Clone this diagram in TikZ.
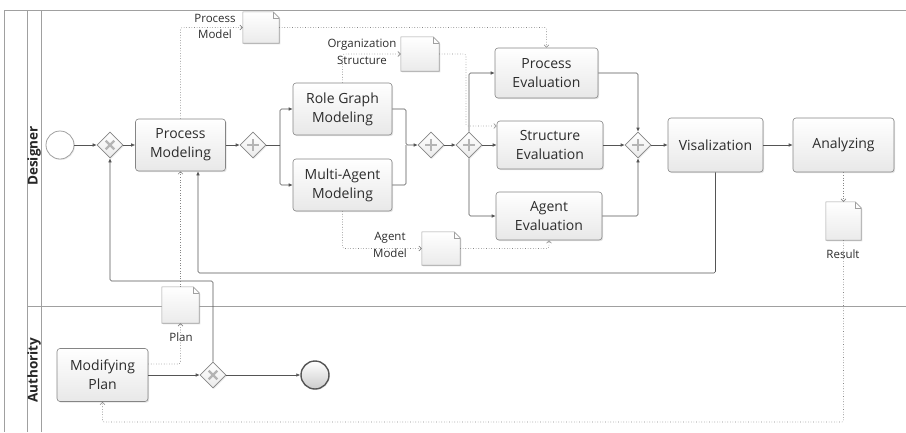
\documentclass[tikz,border=0pt]{standalone}
\usepackage{fontspec}
\setmainfont{Open Sans}
\usetikzlibrary{shapes.geometric,arrows.meta,shadows,calc}
\definecolor{linec}{HTML}{555555}
\definecolor{boxb}{HTML}{858585}
\definecolor{docb}{HTML}{A0A0A0}
\definecolor{txt}{HTML}{2C2C2C}
\definecolor{dotc}{HTML}{858585}
\definecolor{lanec}{HTML}{A0A0A0}
\definecolor{markc}{HTML}{B4B4B4}
\newcommand{\bpmndoc}[1]{%
  \draw[docb, line width=0.6pt, top color=white, bottom color=black!8,
        drop shadow={opacity=0.2, shadow xshift=1.2pt, shadow yshift=-1.2pt}]
    (#1.south west) -- (#1.north west) -- ([xshift=-6pt]#1.north east)
    -- ([yshift=-6pt]#1.north east) -- (#1.south east) -- cycle;
  \draw[docb, line width=0.5pt] ([xshift=-6pt]#1.north east)
    -- ([xshift=-6pt,yshift=-6pt]#1.north east) -- ([yshift=-6pt]#1.north east);}
\begin{document}
\begin{tikzpicture}[x=1pt,y=-1pt,
  task/.style={draw=boxb, rounded corners=3pt, top color=white, bottom color=black!9,
    line width=0.6pt, align=center, text=txt, inner sep=0pt,
    font=\fontsize{14}{19}\selectfont,
    drop shadow={opacity=0.22, shadow xshift=1.2pt, shadow yshift=-1.2pt}},
  gate/.style={diamond, draw=boxb, top color=white, bottom color=black!8,
    minimum size=26pt, inner sep=0pt, line width=0.6pt,
    drop shadow={opacity=0.18, shadow xshift=1pt, shadow yshift=-1pt}},
  xgate/.style={gate, path picture={
    \draw[markc, line width=2.4pt]
      ([shift={(-4.3pt,-4.3pt)}]path picture bounding box.center) --
      ([shift={(4.3pt,4.3pt)}]path picture bounding box.center);
    \draw[markc, line width=2.4pt]
      ([shift={(-4.3pt,4.3pt)}]path picture bounding box.center) --
      ([shift={(4.3pt,-4.3pt)}]path picture bounding box.center);}},
  pgate/.style={gate, path picture={
    \draw[markc, line width=2.6pt]
      ([shift={(-6pt,0pt)}]path picture bounding box.center) --
      ([shift={(6pt,0pt)}]path picture bounding box.center);
    \draw[markc, line width=2.6pt]
      ([shift={(0pt,-6pt)}]path picture bounding box.center) --
      ([shift={(0pt,6pt)}]path picture bounding box.center);}},
  docnode/.style={draw=none, inner sep=0pt},
  lbl/.style={text=txt, align=center, font=\fontsize{11.5}{16.5}\selectfont, inner sep=0pt},
  lane/.style={text=black!85, font=\fontsize{13.5}{16}\selectfont\bfseries, rotate=90},
  flow/.style={draw=linec, line width=0.6pt, rounded corners=1.5pt,
    -{Latex[length=4pt,width=3.6pt]}},
  seg/.style={draw=linec, line width=0.6pt, rounded corners=1.5pt},
  assoc/.style={draw=dotc, dotted, line width=0.6pt, rounded corners=1.5pt,
    -{Straight Barb[length=2.5pt,width=5pt]}},
  aseg/.style={draw=dotc, dotted, line width=0.6pt, rounded corners=1.5pt}]
\useasboundingbox (0,0) rectangle (906,432);
% pool and lanes
\draw[lanec, line width=0.6pt] (4,10) -- (906,10);
\draw[lanec, line width=0.6pt] (4,10) -- (4,432);
\draw[lanec, line width=0.6pt] (27,10) -- (27,432);
\draw[lanec, line width=0.6pt] (41,10) -- (41,432);
\draw[lanec, line width=0.6pt] (27,306) -- (906,306);
\node[lane] (ldes) at (34,156) {Designer};
\node[lane] (laut) at (34,370) {Authority};
% events and gateways
\node[circle, draw=lanec, fill=white, line width=0.8pt, minimum size=28pt, inner sep=0pt,
  drop shadow={opacity=0.15, shadow xshift=1pt, shadow yshift=-1pt}] (start) at (60,145) {};
\node[xgate] (gx1) at (110,145) {};
\node[pgate] (g2) at (253,145) {};
\node[pgate] (g3) at (431,145) {};
\node[pgate] (g4) at (469,145) {};
\node[pgate] (g5) at (638,145) {};
\node[xgate] (g6) at (213,375) {};
\node[circle, draw=linec, line width=1.4pt, top color=white, bottom color=black!20,
  minimum size=28pt, inner sep=0pt,
  drop shadow={opacity=0.15, shadow xshift=1pt, shadow yshift=-1pt}] (end) at (315,375) {};
% tasks
\node[task, minimum width=90pt, minimum height=52pt] (pm) at (180.5,145) {Process\\Modeling};
\node[task, minimum width=99pt, minimum height=52pt] (rg) at (342.5,109) {Role Graph\\Modeling};
\node[task, minimum width=99pt, minimum height=52pt] (ma) at (342.5,185) {Multi-Agent\\Modeling};
\node[task, minimum width=103pt, minimum height=50pt] (pe) at (546.5,73) {Process\\Evaluation};
\node[task, minimum width=106pt, minimum height=48pt] (se) at (550,145) {Structure\\Evaluation};
\node[task, minimum width=106pt, minimum height=48pt] (ae) at (549,216) {Agent\\Evaluation};
\node[task, minimum width=95pt, minimum height=54pt] (vis) at (715.5,145) {Visalization};
\node[task, minimum width=101pt, minimum height=54pt] (an) at (843.5,145) {Analyzing};
\node[task, minimum width=91pt, minimum height=53pt] (mp) at (102.5,375) {Modifying\\Plan};
% data objects
\node[docnode, minimum width=36pt, minimum height=31pt] (pmdoc) at (261,27.5) {};
\node[docnode, minimum width=38pt, minimum height=34pt] (orgdoc) at (420,54) {};
\node[docnode, minimum width=38pt, minimum height=33pt] (agdoc) at (441,248.5) {};
\node[docnode, minimum width=37pt, minimum height=36pt] (plan) at (180.5,305) {};
\node[docnode, minimum width=35pt, minimum height=38pt] (result) at (843.5,221) {};
\bpmndoc{pmdoc}
\bpmndoc{orgdoc}
\bpmndoc{agdoc}
\bpmndoc{plan}
\bpmndoc{result}
\node[lbl] (pmlbl) at (215,26.5) {Process\\Model};
\node[lbl] (orglbl) at (362,52) {Organization\\Structure};
\node[lbl] (aglbl) at (390,245) {Agent\\Model};
\node[lbl] (planlbl) at (181,337) {Plan};
\node[lbl] (reslbl) at (843,254) {Result};
% helper coordinates
\coordinate (sp) at (280,145);
\coordinate (jn) at (406,145);
\coordinate (lp1) at (198,273);
\coordinate (lp2) at (110,281);
\coordinate (bt) at (102.5,422);
\coordinate (oc) at (466,126);
% sequence flows
\draw[flow] (start) -- (gx1);
\draw[flow] (gx1) -- (pm);
\draw[flow] (pm) -- (g2);
\draw[seg] (g2.east) -- (sp);
\draw[flow] (sp) |- (rg.west);
\draw[flow] (sp) |- (ma.west);
\draw[seg] (ma.east) -| (jn);
\draw[flow] (rg.east) -| (jn) -- (g3.west);
\draw[flow] (g3) -- (g4);
\draw[flow] (g4.north) |- (pe.west);
\draw[flow] (g4.east) -- (se.west);
\draw[flow] (g4.south) |- (ae.west);
\draw[flow] (pe.east) -| (g5.north);
\draw[flow] (se.east) -- (g5.west);
\draw[flow] (ae.east) -| (g5.south);
\draw[flow] (g5) -- (vis);
\draw[flow] (vis) -- (an);
\draw[flow] (vis.south) |- (lp1) -- (lp1 |- pm.south);
\draw[flow] (mp.east) -- (g6.west);
\draw[flow] (g6) -- (end);
\draw[flow] (g6.north) |- (lp2) -- (gx1.south);
% associations
\draw[assoc] (pm.north) |- (pmdoc.west);
\draw[assoc] (pmdoc.east) -| (pe.north);
\draw[assoc] (rg.north) |- (orgdoc.west);
\draw[assoc] (orgdoc.east) -| (oc) -- (oc -| se.west);
\draw[assoc] (ma.south) |- (agdoc.west);
\draw[assoc] (agdoc.east) -| (ae.south);
\draw[assoc] (an.south) -- (result.north);
\draw[assoc] (result.south) |- (bt) -- (mp.south);
\draw[assoc] ([yshift=11pt]mp.east) -| (plan.south);
\draw[assoc] (plan.north) -- (pm.south);
\end{tikzpicture}
\end{document}
